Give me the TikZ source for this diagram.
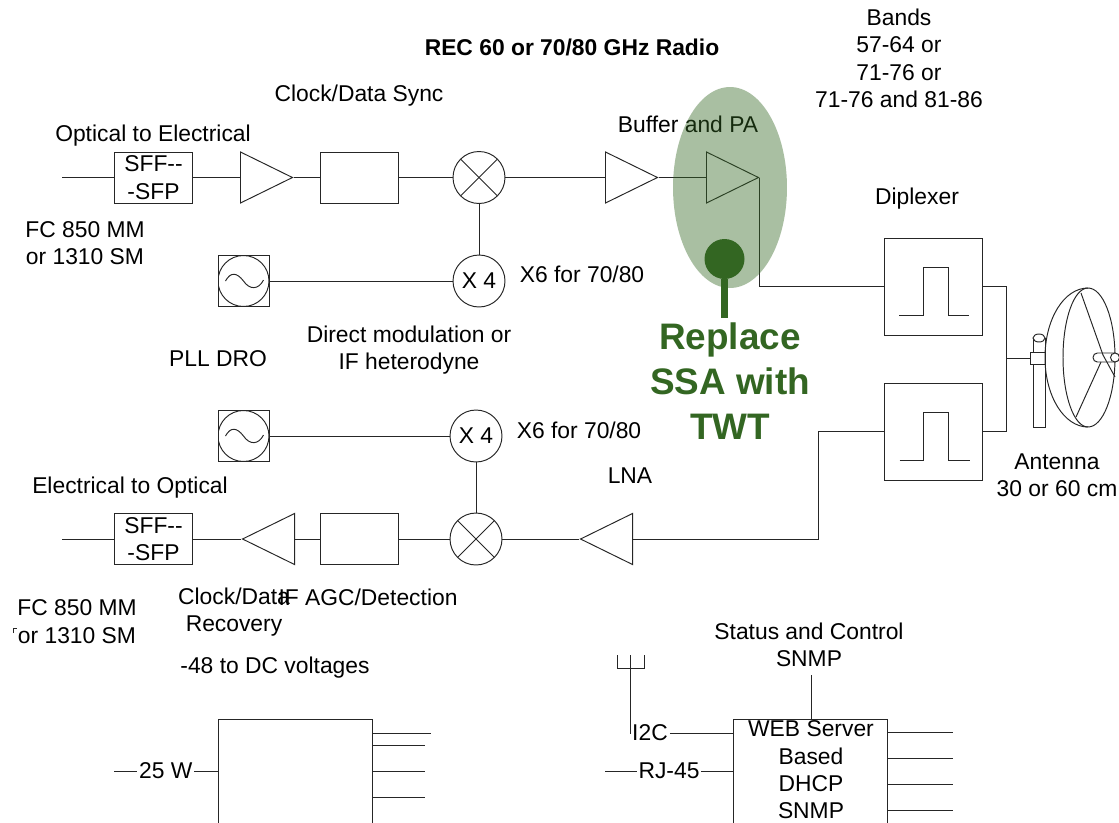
\documentclass[tikz,border=0pt]{standalone}
\usepackage{fontspec}
\setsansfont{Liberation Sans}
\usetikzlibrary{positioning,shapes.geometric}
\definecolor{twtgreen}{HTML}{336622}
\begin{document}
\begin{tikzpicture}[x=0.02cm,y=-0.02cm,font=\sffamily\fontsize{13}{15.6}\selectfont,wire/.style={line width=0.55pt,draw=black!85},label/.style={inner sep=0pt,align=center},linelabel/.style={midway,fill=white,inner sep=1pt},sfpbox/.style={wire,rectangle,minimum width=1.56cm,minimum height=1.02cm,inner sep=0pt,align=center},blockbox/.style={wire,rectangle,minimum width=3.08cm,minimum height=2.14cm,inner sep=0pt},amp/.style={wire,isosceles triangle,isosceles triangle stretches,minimum width=1.02cm,minimum height=1.04cm,inner sep=0pt,anchor=lower side},mixer/.style={wire,circle,minimum size=1.04cm,inner sep=0pt,path picture={\draw[wire] (path picture bounding box.north west) -- (path picture bounding box.south east);\draw[wire] (path picture bounding box.north east) -- (path picture bounding box.south west);}},multiplier/.style={wire,circle,minimum size=1.04cm,inner sep=0pt},osc/.style={wire,rectangle,minimum size=1.02cm,inner sep=0pt,path picture={\draw[wire] (path picture bounding box.center) circle[radius=25.5];\draw[wire,shift={(path picture bounding box.center)}] (-18,0) .. controls (-13,-9) and (-7,-9) .. (0,0) .. controls (6,9) and (15,9) .. (20,-1);}},filterbox/.style={wire,rectangle,minimum width=1.96cm,minimum height=1.94cm,inner sep=0pt,path picture={\draw[wire,shift={(path picture bounding box.center)}] (-34,28.5) -- (-10,28.5) -- (-10,-19.5) -- (15,-19.5) -- (15,28.5) -- (36,28.5);}}]
\useasboundingbox (0,0) rectangle (1119,822);
\node[label,font=\sffamily\bfseries\fontsize{13}{15.6}\selectfont] (title) at (572,47.5) {REC 60 or 70/80 GHz Radio};
\node[label] (bands) at (899,58.5) {Bands\\57-64 or\\71-76 or\\71-76 and 81-86};
\node[label] (syncl) at (359,95.5) {Clock/Data Sync};\node[label] (optl) at (153,135.5) {Optical to Electrical};\node[label] (fcl) at (85,243) {FC 850 MM\\or 1310 SM};\node[label] (x6a) at (582,274.5) {X6 for 70/80};\node[label] (dml) at (409,350) {Direct modulation or\\IF heterodyne};\node[label] (pll) at (218,358.5) {PLL DRO};\node[label] (bufl) at (688,124) {Buffer and PA};\node[label] (dipl) at (917,199) {Diplexer};\node[label] (x6b) at (579,430.5) {X6 for 70/80};\node[label] (lnal) at (630,476) {LNA};\node[label] (antl) at (1057,475) {Antenna\\30 or 60 cm};\node[label] (eleol) at (130,487.5) {Electrical to Optical};\node[label] (fcb) at (77,621.5) {FC 850 MM\\or 1310 SM};\node[label] (cdrl) at (234,612) {Clock/Data\\Recovery};\node[label] (agcl) at (368,597.5) {IF AGC/Detection};\node[label] (dcl) at (275,668) {-48 to DC voltages};\node[label] (stl) at (809,645) {Status and Control\\SNMP};
\coordinate (inA) at (62,177.5);\node[sfpbox] (sffA) at (153.5,177.5) {SFF-{}-\\-SFP};\node[amp] (ampA) at (240,177.5) {};\node[sfpbox] (syncbox) at (359,177.5) {};\node[mixer] (mixA) at (479,177.5) {};\node[amp] (bufamp) at (605,177.5) {};\node[amp] (paamp) at (706,177.5) {};
\node[osc] (oscA) at (243.5,281) {};\node[multiplier] (xfourA) at (479,281) {X 4};
\node[osc] (oscB) at (243.5,436) {};\node[multiplier] (xfourB) at (476,436) {X 4};
\coordinate (inB) at (62,539);\node[sfpbox] (sffB) at (153.5,539) {SFF-{}-\\-SFP};\node[amp,shape border rotate=180] (ampB) at (295,539) {};\node[sfpbox] (agcbox) at (359,539) {};\node[mixer] (mixB) at (476,539) {};\node[amp,shape border rotate=180] (lna) at (633,539) {};
\node[filterbox] (dipA) at (933,286.5) {};\node[filterbox] (dipB) at (933.5,431.5) {};\coordinate (dipjoin) at (1006,358);\coordinate (lnajoin) at (818,486);
\draw[wire] (inA) -- (sffA);\draw[wire] (sffA) -- (ampA.lower side);\draw[wire] (ampA.apex) -- (syncbox);\draw[wire] (syncbox) -- (mixA);\draw[wire] (mixA) -- (bufamp.lower side);\draw[wire] (bufamp.apex) -- (paamp.lower side);\draw[wire] (mixA) -- (xfourA);\draw[wire] (oscA) -- (xfourA);\draw[wire] (paamp.apex) |- (dipA.west);
\draw[wire] (oscB) -- (xfourB);\draw[wire] (xfourB) -- (mixB);\draw[wire] (inB) -- (sffB);\draw[wire] (sffB) -- (ampB.apex);\draw[wire] (ampB.lower side) -- (agcbox);\draw[wire] (agcbox) -- (mixB);\draw[wire] (mixB) -- (lna.apex);\draw[wire] (dipB.west) -| (lnajoin) |- (lna.lower side);
\draw[wire] (dipA.east) -| (dipjoin) |- (dipB.east);
\draw[wire,fill=white] (1033,338) -- (1033,427) -- (1045,427) -- (1045,338);\draw[wire,fill=white] (1039,338) ellipse[x radius=6,y radius=4];\node[wire,rectangle,fill=white,minimum width=0.3cm,minimum height=0.24cm,inner sep=0pt] (clamp) at (1037.5,358) {};\draw[wire] (dipjoin) -- (clamp.west);
\draw[wire] (1088,288) .. controls (1064,288) and (1045,319) .. (1045,357.5) .. controls (1045,396) and (1064,427) .. (1088,427) .. controls (1103,427) and (1115,396) .. (1115,357.5) .. controls (1115,319) and (1103,288) .. (1088,288);
\draw[wire] (1088,288) .. controls (1074,288) and (1063,319) .. (1063,357.5) .. controls (1063,396) and (1074,427) .. (1088,427);
\draw[wire,fill=white,rounded corners=2.5pt] (1093,353) rectangle (1119,362);\draw[wire,fill=white] (1115,357.5) circle[radius=4.5];
\draw[wire] (1081,293) -- (1103,355) -- (1115,377);\draw[wire] (1076,417) -- (1101,362);
\node[ellipse,fill=twtgreen,fill opacity=0.42,minimum width=2.28cm,minimum height=4.02cm,inner sep=0pt] (halo) at (730,187.5) {};
\node[circle,fill=twtgreen,minimum size=0.8cm,inner sep=0pt] (pinhead) at (724.5,259) {};\coordinate (pinend) at (724.5,318);\draw[twtgreen,line width=4.5pt] (pinhead) -- (pinend);
\node[label,text=twtgreen,font=\sffamily\bfseries\fontsize{21}{25.6}\selectfont] (replace) at (730,381) {Replace\\SSA with\\TWT};
\node[blockbox] (pwr) at (295,772.5) {};\coordinate (pwrin) at (114,771);\draw[wire] (pwrin) -- (pwr.west |- pwrin) node[linelabel] (wl) {25 W};
\coordinate (pwra) at (431,733);\coordinate (pwrb) at (425,745);\coordinate (pwrc) at (425,771);\coordinate (pwrd) at (425,797);\draw[wire] (pwr.east |- pwra) -- (pwra);\draw[wire] (pwr.east |- pwrb) -- (pwrb);\draw[wire] (pwr.east |- pwrc) -- (pwrc);\draw[wire] (pwr.east |- pwrd) -- (pwrd);
\node[blockbox] (web) at (810.5,772.5) {};\node[label] (webtext) at (811,770) {WEB Server\\Based\\DHCP\\SNMP};\coordinate (webtop) at (811,675);\draw[wire] (webtop) -- (web.north -| webtop);
\coordinate (weba) at (953,732);\coordinate (webb) at (953,758);\coordinate (webc) at (953,784);\coordinate (webd) at (953,810);\draw[wire] (web.east |- weba) -- (weba);\draw[wire] (web.east |- webb) -- (webb);\draw[wire] (web.east |- webc) -- (webc);\draw[wire] (web.east |- webd) -- (webd);
\coordinate (rjin) at (605,771);\draw[wire] (rjin) -- (web.west |- rjin) node[linelabel] (rj) {RJ-45};
\node[label,fill=white,inner sep=1pt] (itc) at (650,733) {I2C};\draw[wire] (itc) -- (web.west |- itc);
\coordinate (forktop) at (630,655);\coordinate (forkl) at (617,655);\coordinate (forkr) at (644,655);\coordinate (forkbar) at (630,668);\draw[wire] (forktop) |- (itc.west);\draw[wire] (forkl) |- (forkbar);\draw[wire] (forkr) |- (forkbar);
\draw[wire] (13,633) -- (13,628) -- (17,628);
\end{tikzpicture}
\end{document}
